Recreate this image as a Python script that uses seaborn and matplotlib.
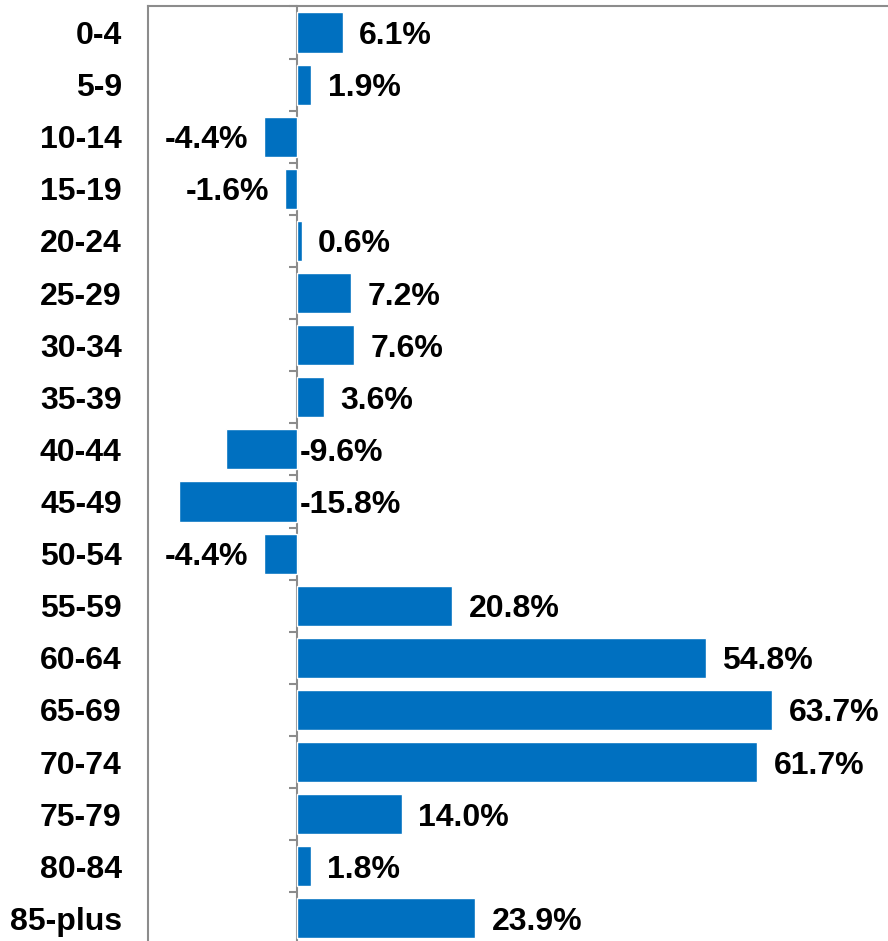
import matplotlib.pyplot as plt
import seaborn as sns
import pandas as pd
import numpy as np

# population change by age group (%)
age_groups = ['0-4', '5-9', '10-14', '15-19', '20-24', '25-29', '30-34', '35-39', '40-44',
              '45-49', '50-54', '55-59', '60-64', '65-69', '70-74', '75-79', '80-84', '85-plus']
change_pct = [6.1, 1.9, -4.4, -1.6, 0.6, 7.2, 7.6, 3.6, -9.6,
              -15.8, -4.4, 20.8, 54.8, 63.7, 61.7, 14.0, 1.8, 23.9]

sns.set_theme(style='white')
plt.rcParams['font.family'] = ['Liberation Sans', 'DejaVu Sans']

df = pd.DataFrame({'age': age_groups, 'change': change_pct})

fig = plt.figure(figsize=(8.88, 9.41), dpi=100)
ax = fig.add_axes([0.1667, -0.0037, 0.840, 0.9968])
sns.barplot(data=df, x='change', y='age', orient='h', color='#0070C0',
            saturation=1, width=0.77, ax=ax)
ax.set_xlim(-20, 80)
ax.set_xticks([])
ax.set_xlabel('')
ax.set_ylabel('')
for s in ax.spines.values():
    s.set_color('#8c8c8c')
    s.set_linewidth(1.5)
ax.tick_params(axis='y', length=0, pad=19, labelsize=23, labelcolor='black')
plt.setp(ax.get_yticklabels(), fontweight='bold')

# zero line with small ticks between categories
sec = ax.secondary_yaxis(0.2)
sec.set_yticks(np.arange(-0.5, len(age_groups), 1), labels=[])
sec.tick_params(length=6, width=1.5, color='#8c8c8c')
for s in sec.spines.values():
    s.set_color('#8c8c8c')
    s.set_linewidth(1.5)

for i, v in enumerate(change_pct):
    if v >= 0:
        x, ha = v + 2.2, 'left'
    elif v > -8:
        x, ha = v - 2.2, 'right'
    else:
        x, ha = 0.4, 'left'
    ax.text(x, i, f'{v:.1f}%', ha=ha, va='center_baseline', fontsize=23,
            fontweight='bold', color='black')

fig.savefig('out.png', dpi=100)
